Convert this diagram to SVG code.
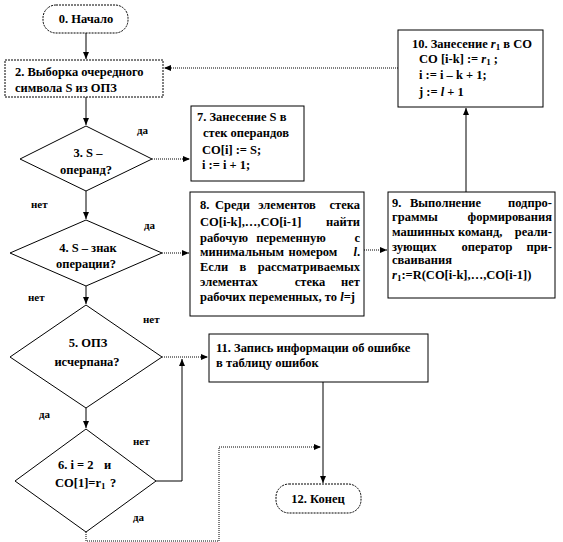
<svg xmlns="http://www.w3.org/2000/svg" width="563" height="542" viewBox="0 0 563 542" font-family="'Liberation Serif', 'Times New Roman', serif">
<style>
text{font-family:'Liberation Serif','Times New Roman',serif;font-weight:bold;font-size:12.5px;fill:#000}
.box{fill:#fff;stroke:#000;stroke-width:1}
.dbox{fill:#fff;stroke:#000;stroke-width:1;stroke-dasharray:2,1}
.ln{fill:none;stroke:#000;stroke-width:1}
.dot{fill:none;stroke:#000;stroke-width:1;stroke-dasharray:1,1}
.c{text-anchor:middle}
.e{text-anchor:end}
.lbl{font-size:11px}
.sub{font-size:9px}
</style>
<defs>
<marker id="ah" markerWidth="8" markerHeight="8" refX="7" refY="4" orient="auto" markerUnits="userSpaceOnUse">
<path d="M0,1 L7,4 L0,7 Z" fill="#000"/>
</marker>
</defs>
<rect width="563" height="542" fill="#fff"/>

<g id="connectors">
<line class="ln" x1="86" y1="32" x2="86" y2="59" marker-end="url(#ah)"/>
<line class="dot" x1="398" y1="68" x2="164" y2="68" marker-end="url(#ah)"/>
<line class="ln" x1="86" y1="97" x2="86" y2="125" marker-end="url(#ah)"/>
<line class="dot" x1="152" y1="159" x2="190" y2="159" marker-end="url(#ah)"/>
<line class="ln" x1="86" y1="191" x2="86" y2="219" marker-end="url(#ah)"/>
<line class="dot" x1="162" y1="253" x2="189" y2="253" marker-end="url(#ah)"/>
<line class="ln" x1="86" y1="286" x2="86" y2="304" marker-end="url(#ah)"/>
<line class="dot" x1="364" y1="250" x2="387" y2="250" marker-end="url(#ah)"/>
<line class="ln" x1="466" y1="192" x2="466" y2="108" marker-end="url(#ah)"/>
<line class="dot" x1="162" y1="357" x2="208" y2="357" marker-end="url(#ah)"/>
<line class="ln" x1="86" y1="408" x2="86" y2="428" marker-end="url(#ah)"/>
<polyline class="ln" points="156,481 182,481 182,359" marker-end="url(#ah)"/>
<polyline class="dot" points="86,532 86,541 219,541 219,447 321,447" marker-end="url(#ah)"/>
<line class="ln" x1="323" y1="382" x2="323" y2="483" marker-end="url(#ah)"/>
</g>

<g id="n0">
<rect class="dbox" x="43" y="5" width="85" height="28" rx="13"/>
<text class="c" x="86" y="23">0. Начало</text>
</g>

<g id="n2">
<rect class="dbox" x="5" y="60" width="158" height="37"/>
<text x="15" y="76">2. Выборка очередного</text>
<text x="15" y="92">символа S из ОПЗ</text>
</g>

<g id="n3">
<polygon class="box" points="86,126 152,159 86,191 20,159"/>
<text class="c" x="88" y="157">3. S –</text>
<text class="c" x="86" y="174">операнд?</text>
</g>

<g id="n4">
<polygon class="box" points="86,220 162,253 86,286 10,253"/>
<text class="c" x="88" y="252">4. S – знак</text>
<text class="c" x="86" y="268">операции?</text>
</g>

<g id="n5">
<polygon class="box" points="86,305 162,357 86,408 10,357"/>
<text class="c" x="88" y="347">5. ОПЗ</text>
<text class="c" x="87" y="366">исчерпана?</text>
</g>

<g id="n6">
<polygon class="box" points="86,429 156,481 86,532 15,481"/>
<text x="58" y="469">6. i = 2</text><text x="104" y="469">и</text>
<text x="55" y="487">CO[1]=r<tspan class="sub" dy="2">1</tspan></text><text x="110" y="487">?</text>
</g>

<g id="n7">
<rect class="box" x="191" y="106" width="113" height="75"/>
<text x="197" y="121">7. Занесение S в</text>
<text x="203" y="137">стек операндов</text>
<text x="202" y="154" font-size="13">CO[i] := S;</text>
<text x="202" y="169" font-size="13">i := i + 1;</text>
</g>

<g id="n8">
<rect class="box" x="190" y="192" width="174" height="124"/>
<text x="200" y="209">8.</text><text x="215" y="209">Среди</text><text class="c" x="287" y="209">элементов</text><text class="e" x="360" y="209">стека</text>
<text x="200" y="226">CO[i-k],…,CO[i-1]</text><text class="e" x="360" y="226">найти</text>
<text x="200" y="242">рабочую</text><text class="c" x="291" y="242">переменную</text><text class="e" x="360" y="242">с</text>
<text x="200" y="256">минимальным</text><text class="c" x="313" y="256">номером</text><text class="e" x="360" y="256"><tspan font-style="italic">l</tspan>.</text>
<text x="200" y="271">Если</text><text class="c" x="243" y="271">в</text><text class="e" x="360" y="271">рассматриваемых</text>
<text x="200" y="286">элементах</text><text class="c" x="310" y="286">стека</text><text class="e" x="360" y="286">нет</text>
<text x="200" y="301">рабочих переменных, то <tspan font-style="italic">l</tspan>=j</text>
</g>

<g id="n9">
<rect class="box" x="388" y="192" width="167" height="106"/>
<text x="392" y="207">9.</text><text x="410" y="207">Выполнение</text><text class="e" x="552" y="207">подпро-</text>
<text x="392" y="221">граммы</text><text class="e" x="552" y="221">формирования</text>
<text x="392" y="236">машинных команд,</text><text class="e" x="552" y="236">реали-</text>
<text x="392" y="251">зующих</text><text class="c" x="487" y="251">оператор</text><text class="e" x="552" y="251">при-</text>
<text x="392" y="264">сваивания</text>
<text x="392" y="279"><tspan font-style="italic">r</tspan><tspan class="sub" dy="2">1</tspan><tspan dy="-2">:=R(CO[i-k],…,CO[i-1])</tspan></text>
</g>

<g id="n10">
<rect class="box" x="398" y="30" width="145" height="77"/>
<text x="412" y="48">10. Занесение <tspan font-style="italic">r</tspan><tspan class="sub" dy="2">1</tspan><tspan dy="-2"> в СО</tspan></text>
<text x="419" y="63">CO [i-k] := <tspan font-style="italic">r</tspan><tspan class="sub" dy="2">1</tspan><tspan dy="-2"> ;</tspan></text>
<text x="419" y="79">i := i – k + 1;</text>
<text x="419" y="96">j := <tspan font-style="italic">l</tspan> + 1</text>
</g>

<g id="n11">
<rect class="box" x="209" y="334" width="219" height="48"/>
<text x="216" y="352">11. Запись информации об ошибке</text>
<text x="216" y="367">в таблицу ошибок</text>
</g>

<g id="n12">
<rect class="dbox" x="276" y="484" width="85" height="29" rx="13"/>
<text class="c" x="318" y="503">12. Конец</text>
</g>

<g id="labels">
<text class="lbl" x="137" y="134">да</text>
<text class="lbl" x="31" y="208">нет</text>
<text class="lbl" x="144" y="229">да</text>
<text class="lbl" x="28" y="301">нет</text>
<text class="lbl" x="143" y="323">нет</text>
<text class="lbl" x="39" y="418">да</text>
<text class="lbl" x="133" y="445">нет</text>
<text class="lbl" x="133" y="521">да</text>
</g>
</svg>
